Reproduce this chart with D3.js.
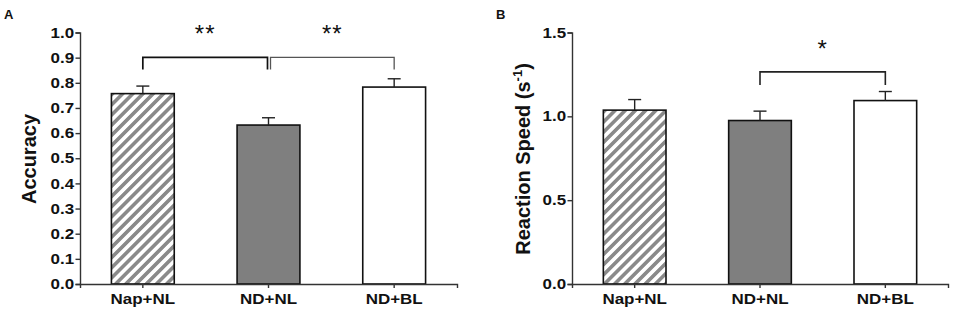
<!DOCTYPE html>
<html>
<head>
<meta charset="utf-8">
<script src="https://cdn.jsdelivr.net/npm/d3@7"></script>
<style>
  body { margin: 0; background: #fff; }
  svg { display: block; }
  text { font-family: "Liberation Sans", Arial, sans-serif; }
</style>
</head>
<body>
<svg id="chart" width="957" height="320"></svg>
<script>
const groups = ["Nap+NL", "ND+NL", "ND+BL"]
const accuracy = [0.757, 0.632, 0.783]
const accuracyErr = [0.03, 0.029, 0.033]
const speed = [1.037, 0.975, 1.094]
const speedErr = [0.063, 0.056, 0.054]
const accTicks = d3.range(0, 11).map(i => i / 10)
const speedTicks = [0, 0.5, 1.0, 1.5]

const FONT = "'Liberation Sans', Arial, sans-serif"
const svg = d3.select("#chart")

const defs = svg.append("defs")
const hatch = defs.append("pattern")
    .attr("id", "hatch")
    .attr("patternUnits", "userSpaceOnUse")
    .attr("width", 7.2)
    .attr("height", 10)
    .attr("patternTransform", "rotate(45)")
hatch.append("rect").attr("width", 7.2).attr("height", 10).attr("fill", "#fff")
hatch.append("rect").attr("width", 3.6).attr("height", 10).attr("fill", "#8a8a8a")

const fills = ["url(#hatch)", "#7f7f7f", "#fff"]

function styleTicks(sel) {
    sel.selectAll(".tick text")
        .attr("font-family", FONT)
        .attr("font-size", 14.5)
        .attr("font-weight", "bold")
        .attr("fill", "#111")
        .attr("transform", "scale(1.17,1)")
}

function panel(opts) {
    const g = svg.append("g")
    const x = d3.scaleBand()
        .domain(groups)
        .range([opts.left, opts.right])
        .paddingInner(0.5)
        .paddingOuter(0.25)
    const y = d3.scaleLinear()
        .domain([0, opts.max])
        .range([284, 32.5])

    // bars
    g.selectAll("rect.bar")
        .data(groups)
        .enter()
        .append("rect")
        .attr("class", "bar")
        .attr("x", d => x(d))
        .attr("width", x.bandwidth())
        .attr("y", (d, i) => y(opts.values[i]))
        .attr("height", (d, i) => y(0) - y(opts.values[i]))
        .attr("fill", (d, i) => fills[i])
        .attr("stroke", "#111")
        .attr("stroke-width", 1.6)

    // error bars (upper only)
    const err = g.selectAll("g.err")
        .data(groups)
        .enter()
        .append("g")
        .attr("class", "err")
        .attr("stroke", "#222")
        .attr("stroke-width", 1.4)
    err.append("line")
        .attr("x1", d => x(d) + x.bandwidth() / 2)
        .attr("x2", d => x(d) + x.bandwidth() / 2)
        .attr("y1", (d, i) => y(opts.values[i]))
        .attr("y2", (d, i) => y(opts.values[i] + opts.errors[i]))
    err.append("line")
        .attr("x1", d => x(d) + x.bandwidth() / 2 - 6.5)
        .attr("x2", d => x(d) + x.bandwidth() / 2 + 6.5)
        .attr("y1", (d, i) => y(opts.values[i] + opts.errors[i]))
        .attr("y2", (d, i) => y(opts.values[i] + opts.errors[i]))

    // axes
    const yAxis = g.append("g")
        .attr("transform", "translate(" + opts.left + ",0)")
        .call(d3.axisLeft(y).tickValues(opts.ticks).tickFormat(d3.format(".1f")).tickSizeOuter(0).tickSize(4.5))
    yAxis.select(".domain").attr("stroke", "#333").attr("stroke-width", 1.4)
    yAxis.selectAll(".tick line").attr("stroke", "#333").attr("stroke-width", 1.4)
    yAxis.selectAll(".tick text").attr("x", -5)
    styleTicks(yAxis)

    const xAxis = g.append("g")
        .attr("transform", "translate(0," + y(0) + ")")
        .call(d3.axisBottom(x).tickSizeOuter(0).tickSize(4))
    xAxis.select(".domain").attr("stroke", "#333").attr("stroke-width", 1.4)
    xAxis.selectAll(".tick line").attr("stroke", "#333").attr("stroke-width", 1.4)
    xAxis.selectAll(".tick text").attr("y", 10)
    styleTicks(xAxis)

    // y label
    const lab = g.append("text")
        .attr("transform", "translate(" + opts.labelX + ",159) rotate(-90)")
        .attr("text-anchor", "middle")
        .attr("font-family", FONT)
        .attr("font-size", 20)
        .attr("font-weight", "bold")
        .attr("fill", "#111")
    lab.append("tspan").text(opts.label)
    if (opts.sup) {
        lab.append("tspan").attr("font-size", 13).attr("dy", -8).text(opts.sup)
        lab.append("tspan").attr("dy", 8).text(")")
    }

    // panel letter
    g.append("text")
        .attr("x", opts.letterX)
        .attr("y", 19)
        .attr("font-family", FONT)
        .attr("font-size", 13)
        .attr("font-weight", "bold")
        .attr("fill", "#111")
        .text(opts.letter)

    // significance brackets
    opts.brackets.forEach(b => {
        const cx1 = x(groups[b.from]) + x.bandwidth() / 2 + (b.dx1 || 0)
        const cx2 = x(groups[b.to]) + x.bandwidth() / 2 + (b.dx2 || 0)
        const yl = y(b.level)
        g.append("path")
            .attr("d", "M" + cx1 + "," + (yl + b.drop) + "V" + yl + "H" + cx2 + "V" + (yl + b.drop))
            .attr("fill", "none")
            .attr("stroke", b.color)
            .attr("stroke-width", b.width)
        g.append("text")
            .attr("x", (cx1 + cx2) / 2)
            .attr("y", yl - b.starGap)
            .attr("text-anchor", "middle")
            .attr("font-family", FONT)
            .attr("font-size", 24)
            .attr("fill", "#111")
            .attr("letter-spacing", 1)
            .text(b.star)
    })
}

panel({
    left: 80, right: 457, max: 1.0,
    values: accuracy, errors: accuracyErr, ticks: accTicks,
    label: "Accuracy", labelX: 36, letter: "A", letterX: 4,
    brackets: [
        { from: 0, to: 1, level: 0.901, drop: 12, dx2: -1, color: "#111", width: 1.7, star: "**", starGap: 15 },
        { from: 1, to: 2, level: 0.901, drop: 12, dx1: 2, color: "#555", width: 1.3, star: "**", starGap: 15 }
    ]
})

panel({
    left: 572, right: 948, max: 1.5,
    values: speed, errors: speedErr, ticks: speedTicks,
    label: "Reaction Speed (s", sup: "-1", labelX: 529.5, letter: "B", letterX: 496,
    brackets: [
        { from: 1, to: 2, level: 1.265, drop: 13, color: "#222", width: 1.6, star: "*", starGap: 15 }
    ]
})
</script>
</body>
</html>
